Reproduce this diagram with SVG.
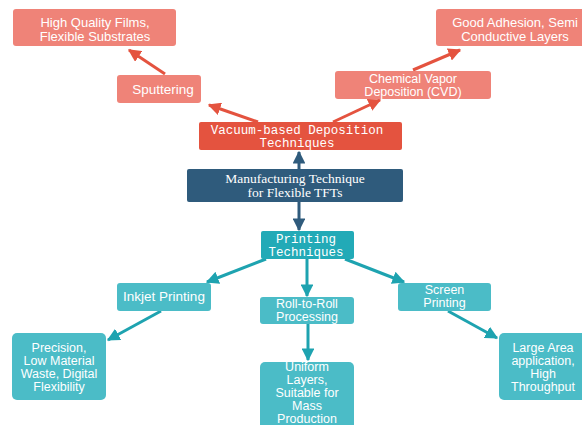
<svg xmlns="http://www.w3.org/2000/svg" width="582" height="425" viewBox="0 0 582 425">
<defs>
<style>
.lt{fill:#ef8378;}
.rd{fill:#e4533f;}
.bl{fill:#2f5b7c;}
.tl{fill:#4bbcc7;}
.tp{fill:#22aab7;}
.s{font-family:"Liberation Sans",Arial,sans-serif;font-size:13px;fill:#fff;text-anchor:middle;}
.s1{font-size:13.5px;}
.s2{font-size:12.5px;}
.m{font-family:"Liberation Mono","DejaVu Sans Mono",monospace;font-size:12.5px;fill:#fff;text-anchor:middle;}
.t{font-family:"Liberation Serif","Times New Roman",serif;font-size:13.5px;fill:#fff;text-anchor:middle;}
.ar{stroke:#e4533f;stroke-width:3;fill:none;}
.ab{stroke:#2f5b7c;stroke-width:3;fill:none;}
.at{stroke:#1ea3b0;stroke-width:3;fill:none;}
</style>
<marker id="mr" viewBox="0 0 10 10" refX="9" refY="5" markerWidth="4.3" markerHeight="4.3" orient="auto" markerUnits="strokeWidth"><path d="M0,0 L10,5 L0,10 z" fill="#e4533f"/></marker>
<marker id="mb" viewBox="0 0 10 10" refX="9" refY="5" markerWidth="4.3" markerHeight="4.3" orient="auto" markerUnits="strokeWidth"><path d="M0,0 L10,5 L0,10 z" fill="#2f5b7c"/></marker>
<marker id="mt" viewBox="0 0 10 10" refX="9" refY="5" markerWidth="4.3" markerHeight="4.3" orient="auto" markerUnits="strokeWidth"><path d="M0,0 L10,5 L0,10 z" fill="#1ea3b0"/></marker>
</defs>
<rect width="582" height="425" fill="#fff"/>
<g id="connectors">
<line class="ar" x1="258" y1="122" x2="209" y2="105" marker-end="url(#mr)"/>
<line class="ar" x1="165" y1="74" x2="129" y2="50" marker-end="url(#mr)"/>
<line class="ar" x1="333" y1="122" x2="380" y2="100" marker-end="url(#mr)"/>
<line class="ar" x1="413" y1="70" x2="460" y2="50" marker-end="url(#mr)"/>
<line class="ab" x1="299" y1="169" x2="299" y2="152" marker-end="url(#mb)"/>
<line class="ab" x1="299" y1="202" x2="299" y2="230" marker-end="url(#mb)"/>
<line class="at" x1="266" y1="259" x2="207" y2="282" marker-end="url(#mt)"/>
<line class="at" x1="307" y1="259" x2="307" y2="296" marker-end="url(#mt)"/>
<line class="at" x1="345" y1="259" x2="404" y2="282" marker-end="url(#mt)"/>
<line class="at" x1="161" y1="311" x2="108" y2="340" marker-end="url(#mt)"/>
<line class="at" x1="308" y1="324" x2="308" y2="360" marker-end="url(#mt)"/>
<line class="at" x1="448" y1="311" x2="497" y2="338" marker-end="url(#mt)"/>
</g>
<g id="high-quality"><rect class="lt" x="13" y="9" width="163" height="37" rx="3"/><text class="s" x="95" y="26.5">High Quality Films,</text><text class="s" x="95" y="40.5">Flexible Substrates</text></g>
<g id="good-adhesion"><rect class="lt" x="436" y="9" width="150" height="37" rx="3"/><text class="s" x="515" y="26.5">Good Adhesion, Semi</text><text class="s" x="515" y="40.5">Conductive Layers</text></g>
<g id="sputtering"><rect class="lt" x="117" y="75" width="84" height="28" rx="3"/><text class="s s1" x="163" y="94">Sputtering</text></g>
<g id="cvd"><rect class="lt" x="335" y="71" width="156" height="28" rx="3"/><text class="s s2" x="413" y="82.5">Chemical Vapor</text><text class="s s2" x="413" y="95.5">Deposition (CVD)</text></g>
<g id="vacuum"><rect class="rd" x="199" y="122" width="203" height="28" rx="2"/><text class="m" x="297" y="133.5">Vacuum-based Deposition</text><text class="m" x="297" y="146.5">Techniques</text></g>
<g id="manufacturing"><rect class="bl" x="187" y="169" width="216" height="33" rx="2"/><text class="t" x="295" y="182.5">Manufacturing Technique</text><text class="t" x="295" y="196.5">for Flexible TFTs</text></g>
<g id="printing"><rect class="tp" x="261" y="231" width="93" height="28" rx="2"/><text class="m" x="306" y="242.5">Printing</text><text class="m" x="306" y="255.5">Techniques</text></g>
<g id="inkjet"><rect class="tl" x="117" y="283" width="94" height="28" rx="3"/><text class="s s1" x="164" y="301">Inkjet Printing</text></g>
<g id="roll"><rect class="tl" x="260" y="297" width="94" height="27" rx="3"/><text class="s s2" x="307" y="308">Roll-to-Roll</text><text class="s s2" x="307" y="321">Processing</text></g>
<g id="screen"><rect class="tl" x="398" y="283" width="93" height="28" rx="3"/><text class="s s2" x="444.5" y="294">Screen</text><text class="s s2" x="444.5" y="307">Printing</text></g>
<g id="precision"><rect class="tl" x="12" y="333" width="94" height="67" rx="5"/><text class="s s2" x="59" y="351.5">Precision,</text><text class="s s2" x="59" y="364.5">Low Material</text><text class="s s2" x="59" y="377.5">Waste, Digital</text><text class="s s2" x="59" y="390.5">Flexibility</text></g>
<g id="uniform"><rect class="tl" x="260" y="362" width="94" height="70" rx="5"/><text class="s s2" x="307" y="371">Uniform</text><text class="s s2" x="307" y="384">Layers,</text><text class="s s2" x="307" y="397">Suitable for</text><text class="s s2" x="307" y="410">Mass</text><text class="s s2" x="307" y="423">Production</text></g>
<g id="large-area"><rect class="tl" x="499" y="333" width="94" height="67" rx="5"/><text class="s s2" x="543" y="351.5">Large Area</text><text class="s s2" x="543" y="364.5">application,</text><text class="s s2" x="543" y="377.5">High</text><text class="s s2" x="543" y="390.5">Throughput</text></g>
</svg>
